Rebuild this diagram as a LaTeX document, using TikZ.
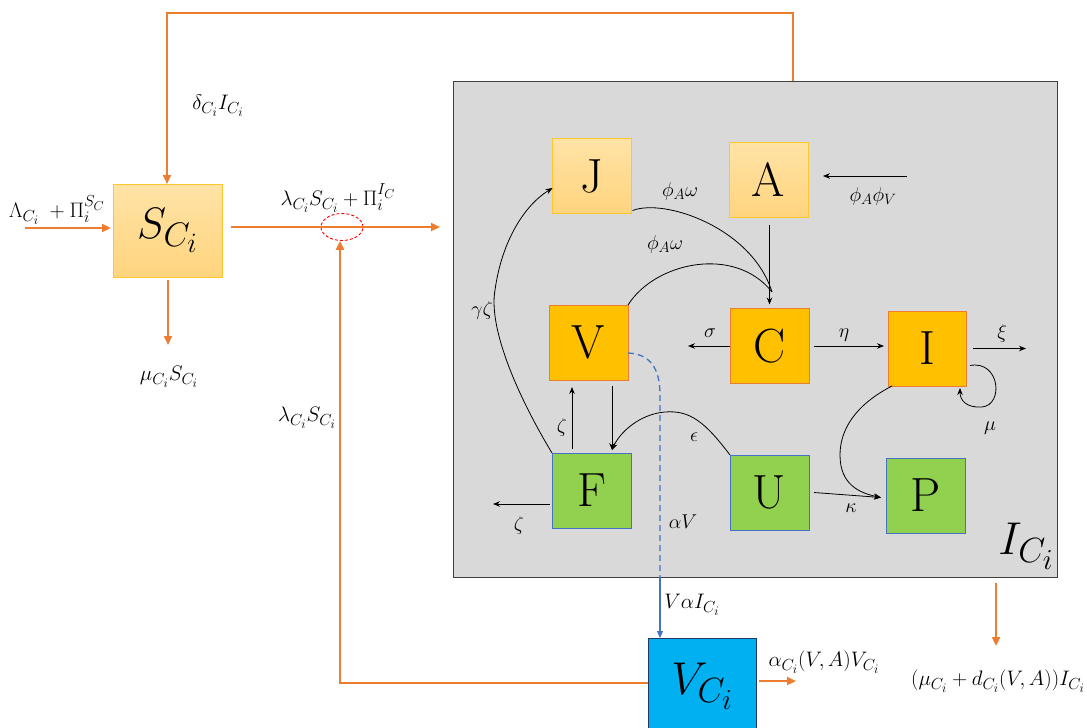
\documentclass[tikz,border=0pt]{standalone}
\usepackage{fix-cm}
\DeclareMathSizes{21}{21}{16}{13}
\DeclareMathSizes{20}{20}{15}{12}
\DeclareMathSizes{46}{46}{35}{29}
\DeclareMathSizes{44}{44}{34}{28}
\usetikzlibrary{arrows.meta,shapes.geometric}
\definecolor{orng}{HTML}{ED7D31}
\definecolor{gold}{HTML}{FFC000}
\definecolor{boxgold}{HTML}{FFC62E}
\definecolor{lighttop}{HTML}{FFE3A6}
\definecolor{lightbot}{HTML}{FFD47E}
\definecolor{grn}{HTML}{92D050}
\definecolor{bluegrey}{HTML}{4472C4}
\definecolor{cyanbox}{HTML}{00B0F0}
\definecolor{darkbl}{HTML}{203864}
\definecolor{greybg}{HTML}{D9D9D9}
\definecolor{greyedge}{HTML}{404040}
\begin{document}
\begin{tikzpicture}[x=1pt,y=-1pt,
  box/.style={draw, line width=0.9pt, minimum width=79pt, minimum height=75pt, inner sep=0pt, outer sep=0pt, font=\fontsize{48}{50}\selectfont},
  lightbox/.style={box, draw=boxgold, top color=lighttop, bottom color=lightbot},
  goldbox/.style={box, draw=orng, fill=gold},
  greenbox/.style={box, draw=bluegrey, fill=grn},
  oarr/.style={draw=orng, line width=2.2pt, -{Triangle[length=9pt,width=8pt]}},
  barr/.style={draw=black, line width=0.8pt, -{Stealth[length=7pt,width=5.5pt]}},
  lab/.style={font=\fontsize{20}{23}\selectfont, inner sep=1pt},
  olab/.style={font=\fontsize{21}{24}\selectfont, inner sep=1pt}]
\useasboundingbox (0,0) rectangle (1087,728);

% main grey compartment
\node[draw=greyedge, fill=greybg, line width=1pt, minimum width=604pt, minimum height=496pt, inner sep=0pt, outer sep=0pt] (Ibox) at (755,329) {};
\node[font=\fontsize{46}{50}\selectfont, inner sep=0pt] (Ilab) at (1026,546) {$I_{C_i}$};

% S box
\node[box, draw=boxgold, top color=lighttop, bottom color=lightbot, minimum width=109pt, minimum height=93pt, font=\fontsize{44}{48}\selectfont] (S) at (167.5,230.5) {$S_{C_i}$};

% V_Ci box
\node[draw=darkbl, fill=cyanbox, line width=1pt, minimum width=108pt, minimum height=97pt, inner sep=0pt, outer sep=0pt, font=\fontsize{46}{50}\selectfont] (Vc) at (702,686.5) {$V_{C_i}$};

% inner boxes
\node[lightbox] (J) at (592,176) {J};
\node[lightbox] (A) at (768.5,179.5) {A};
\node[goldbox] (V) at (588.5,342.5) {V};
\node[goldbox] (C) at (769.5,346) {C};
\node[goldbox, minimum width=78pt] (I) at (927,348.5) {I};
\node[greenbox] (F) at (591.5,490.5) {F};
\node[greenbox] (U) at (769.5,492.5) {U};
\node[greenbox] (P) at (925.5,495.5) {P};

% red dashed ellipse
\node[ellipse, draw=red, line width=0.9pt, dash pattern=on 3pt off 2pt, minimum width=42pt, minimum height=27pt, inner sep=0pt] (ell) at (342,227) {};

% orange connectors
\coordinate (topR) at (793,13);
\coordinate (topL) at (167,13);
\draw[oarr] (Ibox.north -| topR) -- (topR) -- (topL) -- (S.north -| topL);
\coordinate (lamIn) at (25,228);
\draw[oarr] (lamIn) -- ([xshift=-2pt]S.west |- lamIn);
\coordinate (infl) at (440,227);
\draw[oarr] ([xshift=9pt]S.east |- infl) -- (infl);
\coordinate (muS) at (168,345);
\draw[oarr] ([yshift=-3pt]S.south -| muS) -- (muS);
\coordinate (retC) at (340,683);
\draw[oarr] (Vc.west |- retC) -- (retC) -- (ell.south -| retC);
\coordinate (alphaOut) at (796,681);
\draw[oarr] ([xshift=3pt]Vc.east |- alphaOut) -- (alphaOut);
\coordinate (dOut) at (996,646);
\draw[oarr] ([yshift=-6pt]Ibox.south -| dOut) -- (dOut);

% blue connector
\coordinate (bx) at (660,0);
\draw[draw=bluegrey, line width=1.3pt, dash pattern=on 6pt off 4pt] ([yshift=-10.5pt]V.east) .. controls (650,354) and (660,368) .. (660,395) -- (Ibox.south -| bx);
\draw[draw=bluegrey, line width=1.2pt, -{Triangle[length=7pt,width=6pt]}] (Ibox.south -| bx) -- (Vc.north -| bx);

% black connectors
\draw[barr] ([yshift=-8pt]A.south -| C.north) -- ([yshift=4pt]C.north);
\coordinate (phv) at (907,176);
\draw[barr] (phv) -- ([xshift=15pt]A.east |- phv);
\coordinate (merge) at (772,292);
\draw[line width=0.8pt] ([xshift=1pt,yshift=3pt]J.south east) .. controls (665,198) and (752,228) .. (merge);
\draw[line width=0.8pt] (V.north east) .. controls (655,262) and (735,245) .. (merge);
\draw[barr] (C.west) -- ([xshift=-42pt]C.west);
\draw[barr] ([xshift=5pt]C.east) -- ([xshift=-4pt]I.west |- C.east);
\draw[barr] ([xshift=7pt]I.east) -- ([xshift=60pt]I.east);
\draw[barr] ([xshift=4pt,yshift=-17pt]I.east) .. controls (1000,360) and (1004,405) .. (982,407) .. controls (966,408) and (960,400) .. ([xshift=33pt,yshift=-2pt]I.south);
\draw[barr] ([xshift=4pt]I.south west) .. controls (855,405) and (840,430) .. (840,455) .. controls (840,485) and (860,493) .. ([xshift=-5pt,yshift=-2pt]P.west);
\draw[barr] ([xshift=5pt]U.east) -- ([xshift=-5pt,yshift=-2pt]P.west);
\coordinate (vfx) at (612,0);
\coordinate (fvx) at (572,0);
\draw[barr] ([yshift=-6pt]V.south -| vfx) -- ([yshift=3pt]F.north -| vfx);
\draw[barr] (U.north west) .. controls (705,422) and (690,410) .. (665,412) .. controls (640,414) and (620,432) .. ([yshift=3pt]F.north -| vfx);
\draw[barr] ([yshift=4pt]F.north -| fvx) -- ([yshift=-7pt]V.south -| fvx);
\coordinate (fl) at (493,504);
\draw[barr] ([xshift=-2pt]F.west |- fl) -- (fl);
\draw[barr] (F.north west) .. controls (520,400) and (488,330) .. (495,290) .. controls (502,240) and (525,205) .. ([yshift=-12pt]J.west);

% outside labels
\node[olab] (l1) at (218,106) {$\delta_{C_i}I_{C_i}$};
\node[olab] (l2) at (57,210) {$\Lambda_{C_i}\;+\Pi_i^{S_C}$};
\node[olab] (l3) at (338,198) {$\lambda_{C_i}S_{C_i}+\Pi_i^{I_C}$};
\node[olab] (l4) at (169,377) {$\mu_{C_i}S_{C_i}$};
\node[olab] (l5) at (307,418) {$\lambda_{C_i}S_{C_i}$};
\node[olab] (l6) at (824,662) {$\alpha_{C_i}(V,A)V_{C_i}$};
\node[olab] (l7) at (998,681) {$(\mu_{C_i}+d_{C_i}(V,A))I_{C_i}$};
\node[olab] (l8) at (692,605) {$V\alpha I_{C_i}$};

% inside labels
\node[lab] (m1) at (680,191) {$\phi_A\omega$};
\node[lab] (m2) at (665,244) {$\phi_A\omega$};
\node[lab] (m3) at (873,196) {$\phi_A\phi_V$};
\node[lab] (m4) at (710,333) {$\sigma$};
\node[lab] (m5) at (844,335) {$\eta$};
\node[lab] (m6) at (1002,333) {$\xi$};
\node[lab] (m7) at (990,428) {$\mu$};
\node[lab] (m8) at (694,437) {$\epsilon$};
\node[lab] (m9) at (851,508) {$\kappa$};
\node[lab] (m10) at (562,427) {$\zeta$};
\node[lab] (m11) at (519,525) {$\zeta$};
\node[lab] (m12) at (482,310) {$\gamma\zeta$};
\node[lab] (m13) at (683,522) {$\alpha V$};
\end{tikzpicture}
\end{document}
